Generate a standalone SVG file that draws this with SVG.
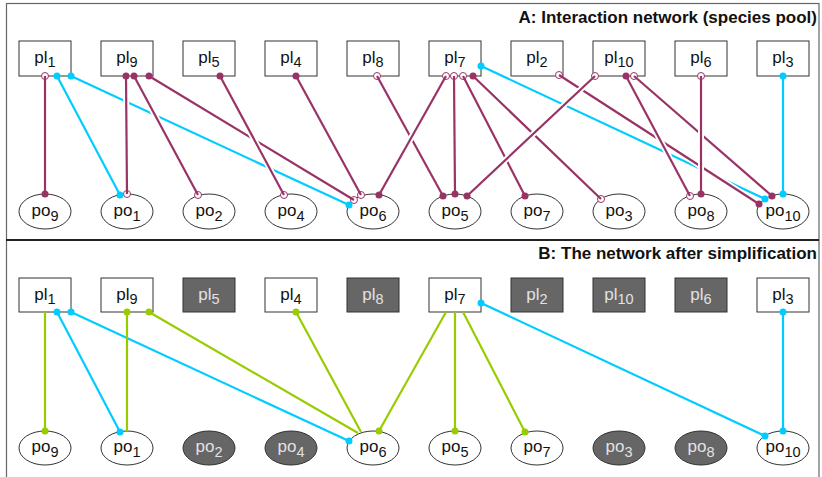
<svg xmlns="http://www.w3.org/2000/svg" width="822" height="477" viewBox="0 0 822 477">
<style>
text{font-family:"Liberation Sans",Arial,sans-serif;font-size:17px;fill:#111}
.t{font-weight:bold;font-size:17px;text-anchor:end}
.l{text-anchor:middle}
.s{font-size:14.5px}
.box{fill:#fff;stroke:#333;stroke-width:1}
.gbox{fill:#666;stroke:#333;stroke-width:1}
.g text,.gt{fill:#e2e2e2}
.e{fill:none;stroke-width:2.2;stroke-linecap:butt}
.p{stroke:#993366}
.c{stroke:#00ccff}
.gr{stroke:#99cc00}
.halo{fill:none;stroke:#fff;stroke-width:6;stroke-dasharray:0 7 86 7}
.mp{fill:#993366}
.mo{fill:#fff;stroke:#993366;stroke-width:1}
.mc{fill:#00ccff}
.mg{fill:#99cc00}
</style>
<rect x="0" y="0" width="822" height="477" fill="#fff"/>
<rect x="6.5" y="3.5" width="812.5" height="480" fill="none" stroke="#666" stroke-width="1.2"/>
<line x1="6" y1="240" x2="819" y2="240" stroke="#222" stroke-width="2"/>
<text class="t" x="817" y="23">A: Interaction network (species pool)</text>
<text class="t" x="817" y="259">B: The network after simplification</text>

<!-- Panel A nodes -->
<g id="a-pl1"><rect class="box" x="19" y="41" width="52" height="35"/><text class="l" x="45" y="63">pl<tspan class="s" dy="4">1</tspan></text></g>
<g id="a-pl9"><rect class="box" x="101" y="41" width="52" height="35"/><text class="l" x="127" y="63">pl<tspan class="s" dy="4">9</tspan></text></g>
<g id="a-pl5"><rect class="box" x="183" y="41" width="52" height="35"/><text class="l" x="209" y="63">pl<tspan class="s" dy="4">5</tspan></text></g>
<g id="a-pl4"><rect class="box" x="265" y="41" width="52" height="35"/><text class="l" x="291" y="63">pl<tspan class="s" dy="4">4</tspan></text></g>
<g id="a-pl8"><rect class="box" x="347" y="41" width="52" height="35"/><text class="l" x="373" y="63">pl<tspan class="s" dy="4">8</tspan></text></g>
<g id="a-pl7"><rect class="box" x="429" y="41" width="52" height="35"/><text class="l" x="455" y="63">pl<tspan class="s" dy="4">7</tspan></text></g>
<g id="a-pl2"><rect class="box" x="511" y="41" width="52" height="35"/><text class="l" x="537" y="63">pl<tspan class="s" dy="4">2</tspan></text></g>
<g id="a-pl10"><rect class="box" x="593" y="41" width="52" height="35"/><text class="l" x="619" y="63">pl<tspan class="s" dy="4">10</tspan></text></g>
<g id="a-pl6"><rect class="box" x="675" y="41" width="52" height="35"/><text class="l" x="701" y="63">pl<tspan class="s" dy="4">6</tspan></text></g>
<g id="a-pl3"><rect class="box" x="757" y="41" width="52" height="35"/><text class="l" x="783" y="63">pl<tspan class="s" dy="4">3</tspan></text></g>

<g id="a-po9"><ellipse class="box" cx="45" cy="211.5" rx="26" ry="17.5"/><text class="l" x="45" y="215.5">po<tspan class="s" dy="5">9</tspan></text></g>
<g id="a-po1"><ellipse class="box" cx="127" cy="211.5" rx="26" ry="17.5"/><text class="l" x="127" y="215.5">po<tspan class="s" dy="5">1</tspan></text></g>
<g id="a-po2"><ellipse class="box" cx="209" cy="211.5" rx="26" ry="17.5"/><text class="l" x="209" y="215.5">po<tspan class="s" dy="5">2</tspan></text></g>
<g id="a-po4"><ellipse class="box" cx="291" cy="211.5" rx="26" ry="17.5"/><text class="l" x="291" y="215.5">po<tspan class="s" dy="5">4</tspan></text></g>
<g id="a-po6"><ellipse class="box" cx="373" cy="211.5" rx="26" ry="17.5"/><text class="l" x="373" y="215.5">po<tspan class="s" dy="5">6</tspan></text></g>
<g id="a-po5"><ellipse class="box" cx="455" cy="211.5" rx="26" ry="17.5"/><text class="l" x="455" y="215.5">po<tspan class="s" dy="5">5</tspan></text></g>
<g id="a-po7"><ellipse class="box" cx="537" cy="211.5" rx="26" ry="17.5"/><text class="l" x="537" y="215.5">po<tspan class="s" dy="5">7</tspan></text></g>
<g id="a-po3"><ellipse class="box" cx="619" cy="211.5" rx="26" ry="17.5"/><text class="l" x="619" y="215.5">po<tspan class="s" dy="5">3</tspan></text></g>
<g id="a-po8"><ellipse class="box" cx="701" cy="211.5" rx="26" ry="17.5"/><text class="l" x="701" y="215.5">po<tspan class="s" dy="5">8</tspan></text></g>
<g id="a-po10"><ellipse class="box" cx="783" cy="211.5" rx="26" ry="17.5"/><text class="l" x="783" y="215.5">po<tspan class="s" dy="5">10</tspan></text></g>

<!-- Panel A connectors -->
<g id="connectors-a">
<g id="a-open-ends">
<circle class="mo" cx="45" cy="76" r="3.5"/><circle class="mo" cx="127" cy="194" r="3.5"/><circle class="mo" cx="198" cy="195" r="3.5"/><circle class="mo" cx="354" cy="200" r="3.5"/><circle class="mo" cx="284" cy="195" r="3.5"/><circle class="mo" cx="361" cy="195" r="3.5"/><circle class="mo" cx="377" cy="76" r="3.5"/><circle class="mo" cx="446" cy="76" r="3.5"/><circle class="mo" cx="454" cy="76" r="3.5"/><circle class="mo" cx="463" cy="76" r="3.5"/><circle class="mo" cx="601" cy="199" r="3.5"/><circle class="mo" cx="559" cy="75" r="3.5"/><circle class="mo" cx="595" cy="76" r="3.5"/><circle class="mo" cx="690" cy="196" r="3.5"/><circle class="mo" cx="634" cy="76" r="3.5"/><circle class="mo" cx="701" cy="76" r="3.5"/>
</g>
<path class="halo" pathLength="100" d="M71 76L349 205"/><path class="e c" d="M71 76L349 205"/>
<path class="halo" pathLength="100" d="M57 76L120 195"/><path class="e c" d="M57 76L120 195"/>
<path class="halo" pathLength="100" d="M481 66L765 199"/><path class="e c" d="M481 66L765 199"/>
<path class="halo" pathLength="100" d="M559 75L759 204"/><path class="e p" d="M559 75L759 204"/>
<path class="halo" pathLength="100" d="M149 76L354 200"/><path class="e p" d="M149 76L354 200"/>
<path class="halo" pathLength="100" d="M45 76L45 194"/><path class="e p" d="M45 76L45 194"/>
<path class="halo" pathLength="100" d="M126 76L127 194"/><path class="e p" d="M126 76L127 194"/>
<path class="halo" pathLength="100" d="M134 76L198 195"/><path class="e p" d="M134 76L198 195"/>
<path class="halo" pathLength="100" d="M377 76L443 196"/><path class="e p" d="M377 76L443 196"/>
<path class="halo" pathLength="100" d="M446 76L379 195"/><path class="e p" d="M446 76L379 195"/>
<path class="halo" pathLength="100" d="M454 76L455 194"/><path class="e p" d="M454 76L455 194"/>
<path class="halo" pathLength="100" d="M463 76L525 196"/><path class="e p" d="M463 76L525 196"/>
<path class="halo" pathLength="100" d="M473 76L601 199"/><path class="e p" d="M473 76L601 199"/>
<path class="halo" pathLength="100" d="M595 76L467 196"/><path class="e p" d="M595 76L467 196"/>
<path class="halo" pathLength="100" d="M626 76L690 196"/><path class="e p" d="M626 76L690 196"/>
<path class="halo" pathLength="100" d="M634 76L772 196"/><path class="e p" d="M634 76L772 196"/>
<path class="halo" pathLength="100" d="M701 76L701 194"/><path class="e p" d="M701 76L701 194"/>
<path class="halo" pathLength="100" d="M220 76L284 195"/><path class="e p" d="M220 76L284 195"/>
<path class="halo" pathLength="100" d="M296 76L361 195"/><path class="e p" d="M296 76L361 195"/>
<path class="halo" pathLength="100" d="M783 76L783 194"/><path class="e c" d="M783 76L783 194"/>
<g id="a-filled-ends">
<circle class="mp" cx="45" cy="194" r="3.5"/>
<circle class="mp" cx="126" cy="76" r="3.5"/><circle class="mp" cx="134" cy="76" r="3.5"/><circle class="mp" cx="149" cy="76" r="3.5"/>
<circle class="mp" cx="220" cy="76" r="3.5"/><circle class="mp" cx="296" cy="76" r="3.5"/>
<circle class="mp" cx="443" cy="196" r="3.5"/><circle class="mp" cx="455" cy="194" r="3.5"/><circle class="mp" cx="467" cy="196" r="3.5"/>
<circle class="mp" cx="379" cy="195" r="3.5"/><circle class="mp" cx="525" cy="196" r="3.5"/><circle class="mp" cx="473" cy="76" r="3.5"/>
<circle class="mp" cx="626" cy="76" r="3.5"/><circle class="mp" cx="701" cy="194" r="3.5"/>
<circle class="mp" cx="759" cy="204" r="3.5"/><circle class="mp" cx="772" cy="196" r="3.5"/>
<circle class="mc" cx="57" cy="76" r="3.5"/><circle class="mc" cx="71" cy="76" r="3.5"/><circle class="mc" cx="120" cy="195" r="3.5"/><circle class="mc" cx="349" cy="205" r="3.5"/>
<circle class="mc" cx="481" cy="66" r="3.5"/><circle class="mc" cx="765" cy="199" r="3.5"/><circle class="mc" cx="783" cy="76" r="3.5"/><circle class="mc" cx="783" cy="194" r="3.5"/>
</g>
</g>

<!-- Panel B nodes -->
<g id="b-pl1"><rect class="box" x="19" y="278" width="52" height="34"/><text class="l" x="45" y="300">pl<tspan class="s" dy="4">1</tspan></text></g>
<g id="b-pl9"><rect class="box" x="101" y="278" width="52" height="34"/><text class="l" x="127" y="300">pl<tspan class="s" dy="4">9</tspan></text></g>
<g id="b-pl5" class="g"><rect class="gbox" x="183" y="278" width="52" height="34"/><text class="l" x="209" y="300">pl<tspan class="s" dy="4">5</tspan></text></g>
<g id="b-pl4"><rect class="box" x="265" y="278" width="52" height="34"/><text class="l" x="291" y="300">pl<tspan class="s" dy="4">4</tspan></text></g>
<g id="b-pl8" class="g"><rect class="gbox" x="347" y="278" width="52" height="34"/><text class="l" x="373" y="300">pl<tspan class="s" dy="4">8</tspan></text></g>
<g id="b-pl7"><rect class="box" x="429" y="278" width="52" height="34"/><text class="l" x="455" y="300">pl<tspan class="s" dy="4">7</tspan></text></g>
<g id="b-pl2" class="g"><rect class="gbox" x="511" y="278" width="52" height="34"/><text class="l" x="537" y="300">pl<tspan class="s" dy="4">2</tspan></text></g>
<g id="b-pl10" class="g"><rect class="gbox" x="593" y="278" width="52" height="34"/><text class="l" x="619" y="300">pl<tspan class="s" dy="4">10</tspan></text></g>
<g id="b-pl6" class="g"><rect class="gbox" x="675" y="278" width="52" height="34"/><text class="l" x="701" y="300">pl<tspan class="s" dy="4">6</tspan></text></g>
<g id="b-pl3"><rect class="box" x="757" y="278" width="52" height="34"/><text class="l" x="783" y="300">pl<tspan class="s" dy="4">3</tspan></text></g>

<g id="b-po9"><ellipse class="box" cx="45" cy="448" rx="26" ry="17"/><text class="l" x="45" y="452">po<tspan class="s" dy="5">9</tspan></text></g>
<g id="b-po1"><ellipse class="box" cx="127" cy="448" rx="26" ry="17"/><text class="l" x="127" y="452">po<tspan class="s" dy="5">1</tspan></text></g>
<g id="b-po2" class="g"><ellipse class="gbox" cx="209" cy="448" rx="26" ry="17"/><text class="l" x="209" y="452">po<tspan class="s" dy="5">2</tspan></text></g>
<g id="b-po4" class="g"><ellipse class="gbox" cx="291" cy="448" rx="26" ry="17"/><text class="l" x="291" y="452">po<tspan class="s" dy="5">4</tspan></text></g>
<g id="b-po6"><ellipse class="box" cx="373" cy="448" rx="26" ry="17"/><text class="l" x="373" y="452">po<tspan class="s" dy="5">6</tspan></text></g>
<g id="b-po5"><ellipse class="box" cx="455" cy="448" rx="26" ry="17"/><text class="l" x="455" y="452">po<tspan class="s" dy="5">5</tspan></text></g>
<g id="b-po7"><ellipse class="box" cx="537" cy="448" rx="26" ry="17"/><text class="l" x="537" y="452">po<tspan class="s" dy="5">7</tspan></text></g>
<g id="b-po3" class="g"><ellipse class="gbox" cx="619" cy="448" rx="26" ry="17"/><text class="l" x="619" y="452">po<tspan class="s" dy="5">3</tspan></text></g>
<g id="b-po8" class="g"><ellipse class="gbox" cx="701" cy="448" rx="26" ry="17"/><text class="l" x="701" y="452">po<tspan class="s" dy="5">8</tspan></text></g>
<g id="b-po10"><ellipse class="box" cx="783" cy="448" rx="26" ry="17"/><text class="l" x="783" y="452">po<tspan class="s" dy="5">10</tspan></text></g>

<!-- Panel B connectors -->
<g id="connectors-b">
<path class="e gr" d="M45 312L45 431"/>
<path class="e c" d="M57 312L120 432"/>
<path class="e c" d="M71 312L349 441"/>
<path class="e gr" d="M127 312L127 431"/>
<path class="e gr" d="M149 312L358 433"/>
<path class="e gr" d="M296 312L361 432"/>
<path class="e gr" d="M446 312L379 431"/>
<path class="e gr" d="M455 312L455 431"/>
<path class="e gr" d="M463 312L525 432"/>
<path class="e c" d="M481 303L765 436"/>
<path class="e c" d="M783 312L783 431"/>
<circle class="mg" cx="45" cy="431" r="3.5"/>
<circle class="mc" cx="57" cy="312" r="3.5"/><circle class="mc" cx="71" cy="312" r="3.5"/><circle class="mc" cx="120" cy="432" r="3.5"/><circle class="mc" cx="349" cy="441" r="3.5"/>
<circle class="mg" cx="127" cy="312" r="3.5"/><circle class="mg" cx="149" cy="312" r="3.5"/><circle class="mg" cx="296" cy="312" r="3.5"/>
<circle class="mg" cx="379" cy="431" r="3.5"/><circle class="mg" cx="455" cy="431" r="3.5"/><circle class="mg" cx="525" cy="432" r="3.5"/>
<circle class="mc" cx="481" cy="303" r="3.5"/><circle class="mc" cx="765" cy="436" r="3.5"/><circle class="mc" cx="783" cy="312" r="3.5"/><circle class="mc" cx="783" cy="431" r="3.5"/>
</g>
</svg>
